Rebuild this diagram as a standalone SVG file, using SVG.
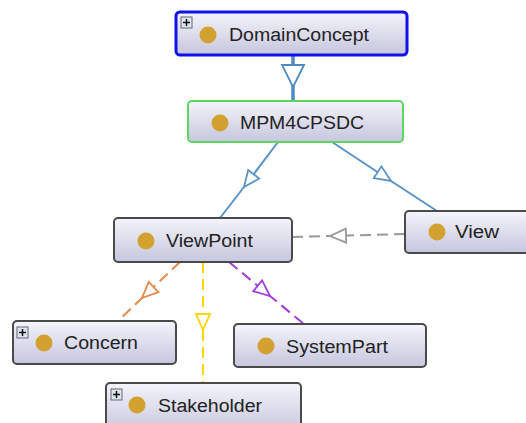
<svg xmlns="http://www.w3.org/2000/svg" width="526" height="423" viewBox="0 0 526 423">
<defs>
<linearGradient id="g" x1="0" y1="0" x2="0" y2="1">
<stop offset="0" stop-color="#f4f4fb"/>
<stop offset="1" stop-color="#c6c6de"/>
</linearGradient>
<marker id="mBlue" markerUnits="userSpaceOnUse" markerWidth="20" markerHeight="16" refX="16" refY="7" orient="auto" overflow="visible"><path d="M0,0 L16,7 L0,14 Z" fill="#fff" stroke="#5b93c7" stroke-width="1.8"/></marker>
<marker id="mBig" markerUnits="userSpaceOnUse" markerWidth="26" markerHeight="24" refX="22" refY="11" orient="auto" overflow="visible"><path d="M0,0 L22,11 L0,22 Z" fill="#fff" stroke="#4f8bc2" stroke-width="1.8"/></marker>
<marker id="mGray" markerUnits="userSpaceOnUse" markerWidth="20" markerHeight="16" refX="16" refY="7" orient="auto" overflow="visible"><path d="M0,0 L16,7 L0,14 Z" fill="#fff" stroke="#999" stroke-width="1.8"/></marker>
<marker id="mOrange" markerUnits="userSpaceOnUse" markerWidth="20" markerHeight="16" refX="16" refY="7" orient="auto" overflow="visible"><path d="M0,0 L16,7 L0,14 Z" fill="#fff" stroke="#e48a4c" stroke-width="1.8"/></marker>
<marker id="mYellow" markerUnits="userSpaceOnUse" markerWidth="20" markerHeight="16" refX="16" refY="7" orient="auto" overflow="visible"><path d="M0,0 L16,7 L0,14 Z" fill="#fff" stroke="#fdd600" stroke-width="1.8"/></marker>
<marker id="mPurple" markerUnits="userSpaceOnUse" markerWidth="20" markerHeight="16" refX="16" refY="7" orient="auto" overflow="visible"><path d="M0,0 L16,7 L0,14 Z" fill="#fff" stroke="#a13de0" stroke-width="1.8"/></marker>
</defs>
<style>
.box{fill:url(#g);stroke:#4a4a4a;stroke-width:2}
.dot{fill:#d3a12f}
.lbl{font-family:"Liberation Sans",Arial,sans-serif;font-size:18px;fill:#222}
.plus{fill:#dde4ee;stroke:#667;stroke-width:1}
.pl{stroke:#111;stroke-width:1.5}
.c{fill:none;stroke-width:2}
.d{stroke-dasharray:11 6}
</style>
<g id="connectors">
<polyline class="c" points="293,55 293,87 293,101" stroke="#4f8bc2" style="stroke-width:3.5" marker-mid="url(#mBig)"/>
<polyline class="c" points="278,142 244,187 220,218" stroke="#5b93c7" marker-mid="url(#mBlue)"/>
<polyline class="c" points="332,142 391,181 437,211" stroke="#5b93c7" marker-mid="url(#mBlue)"/>
<polyline class="c d" points="405,234 330,236 292,237" stroke="#999" marker-mid="url(#mGray)"/>
<polyline class="c d" points="180,262 142,298 118,321" stroke="#e48a4c" marker-mid="url(#mOrange)"/>
<polyline class="c d" points="203,262 203,330 203,383" stroke="#fdd600" marker-mid="url(#mYellow)"/>
<polyline class="c d" points="229,262 270,296 304,324" stroke="#a13de0" marker-mid="url(#mPurple)"/>
</g>
<g id="DomainConcept">
<rect x="176" y="12" width="231" height="43" rx="4" class="box" style="stroke:#1010e8;stroke-width:3"/>
<rect x="181" y="17" width="11" height="11" class="plus"/>
<path class="pl" d="M183,22.5 H190 M186.5,19 V26"/>
<circle cx="208" cy="35" r="8.5" class="dot"/>
<text x="229" y="41" class="lbl" textLength="140" lengthAdjust="spacingAndGlyphs">DomainConcept</text>
</g>
<g id="MPM4CPSDC">
<rect x="188" y="101" width="215" height="41" rx="4" class="box" style="stroke:#5cd65c;stroke-width:2"/>
<circle cx="220" cy="123" r="8.5" class="dot"/>
<text x="240" y="129" class="lbl" textLength="124" lengthAdjust="spacingAndGlyphs">MPM4CPSDC</text>
</g>
<g id="ViewPoint">
<rect x="114" y="218" width="178" height="44" rx="4" class="box"/>
<circle cx="146" cy="241" r="8.5" class="dot"/>
<text x="166" y="247" class="lbl" textLength="87" lengthAdjust="spacingAndGlyphs">ViewPoint</text>
</g>
<g id="View">
<rect x="405" y="211" width="140" height="42" rx="4" class="box"/>
<circle cx="437" cy="232" r="8.5" class="dot"/>
<text x="455" y="238" class="lbl" textLength="44" lengthAdjust="spacingAndGlyphs">View</text>
</g>
<g id="Concern">
<rect x="13" y="321" width="163" height="43" rx="4" class="box"/>
<rect x="17" y="327" width="11" height="11" class="plus"/>
<path class="pl" d="M19,332.5 H26 M22.5,329 V336"/>
<circle cx="44" cy="343" r="8.5" class="dot"/>
<text x="64" y="349" class="lbl" textLength="74" lengthAdjust="spacingAndGlyphs">Concern</text>
</g>
<g id="SystemPart">
<rect x="234" y="324" width="192" height="43" rx="4" class="box"/>
<circle cx="266" cy="346" r="8.5" class="dot"/>
<text x="286" y="353" class="lbl" textLength="102" lengthAdjust="spacingAndGlyphs">SystemPart</text>
</g>
<g id="Stakeholder">
<rect x="106" y="383" width="195" height="50" rx="4" class="box"/>
<rect x="111" y="389" width="11" height="11" class="plus"/>
<path class="pl" d="M113,394.5 H120 M116.5,391 V398"/>
<circle cx="137" cy="405" r="8.5" class="dot"/>
<text x="158" y="412" class="lbl" textLength="104" lengthAdjust="spacingAndGlyphs">Stakeholder</text>
</g>
</svg>
